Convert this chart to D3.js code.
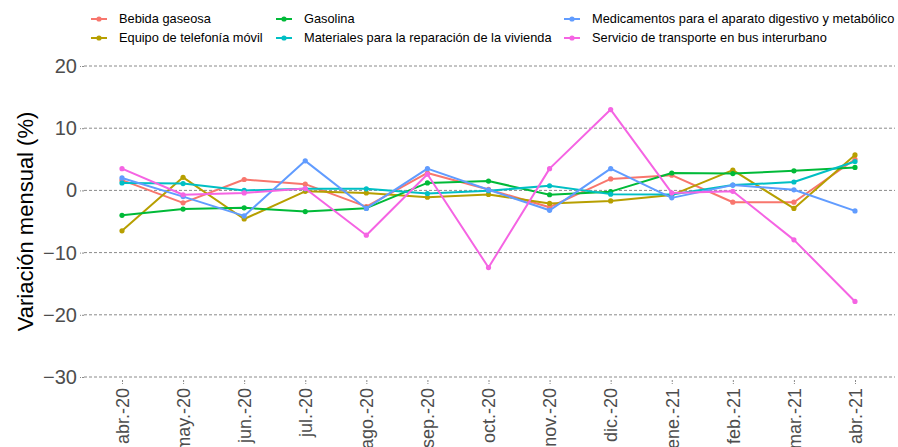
<!DOCTYPE html>
<html><head><meta charset="utf-8">
<script src="https://cdn.jsdelivr.net/npm/d3@7"></script>
<style>body{margin:0;background:#fff}svg{display:block;font-family:"Liberation Sans",Arial,sans-serif}</style>
</head><body>
<svg id="chart" width="898" height="447"></svg>
<script>
const months = ["abr.-20","may.-20","jun.-20","jul.-20","ago.-20","sep.-20","oct.-20","nov.-20","dic.-20","ene.-21","feb.-21","mar.-21","abr.-21"];
const seriesNames = ["Bebida gaseosa","Equipo de telefonía móvil","Gasolina","Materiales para la reparación de la vivienda","Medicamentos para el aparato digestivo y metabólico","Servicio de transporte en bus interurbano"];
const seriesColors = ["#F8766D","#B79F00","#00BA38","#00BFC4","#619CFF","#F564E3"];
const bebida      = [1.65,-2.0,1.75,1.0,-2.6,2.8,0.15,-2.7,1.85,2.45,-1.9,-1.9,5.0];
const telefonia   = [-6.5,2.1,-4.6,-0.15,-0.4,-1.1,-0.65,-2.1,-1.7,-0.75,3.25,-2.9,5.7];
const gasolina    = [-4.0,-3.0,-2.8,-3.4,-2.85,1.2,1.5,-0.7,-0.2,2.8,2.7,3.15,3.7];
const materiales  = [1.2,1.1,0.0,0.25,0.25,-0.5,-0.05,0.75,-0.6,-0.65,0.85,1.35,4.65];
const medicamentos= [2.0,-1.0,-4.1,4.75,-2.9,3.5,0.1,-3.2,3.5,-1.2,0.85,0.1,-3.3];
const bus         = [3.5,-0.7,-0.4,0.3,-7.2,2.6,-12.4,3.5,13.0,-0.4,-0.15,-7.95,-17.85];
const yTicks = [-30,-20,-10,0,10,20];
const yTitle = "Variación mensual (%)";

const allValues = [bebida,telefonia,gasolina,materiales,medicamentos,bus];
const series = seriesNames.map((n,i)=>({name:n,color:seriesColors[i],values:allValues[i]}));

const svg = d3.select("#chart");
const panel = {left:84, right:895, top:52, bottom:380};
const x = d3.scalePoint().domain(months).range([122,855]);
const y = d3.scaleLinear().domain([-30,20]).range([377,66]);

// grid
svg.append("g").selectAll("line").data(yTicks).join("line")
  .attr("x1",panel.left).attr("x2",panel.right)
  .attr("y1",d=>y(d)).attr("y2",d=>y(d))
  .attr("stroke","#8a8a8a").attr("stroke-width",1).attr("stroke-dasharray","3,2");

// y axis
const yAxis = svg.append("g").attr("transform",`translate(${panel.left},0)`)
  .call(d3.axisLeft(y).tickValues(yTicks).tickSize(4).tickPadding(3).tickFormat(d3.format("d")));
yAxis.select(".domain").remove();
yAxis.selectAll(".tick line").attr("stroke","#8a8a8a").attr("stroke-dasharray","2,1");
yAxis.selectAll(".tick text").attr("fill","#4D4D4D").style("font-size","20px").style("font-family","Liberation Sans, Arial, sans-serif");

// x axis
const xAxis = svg.append("g").attr("transform",`translate(0,${panel.bottom})`)
  .call(d3.axisBottom(x).tickSize(4).tickPadding(4));
xAxis.select(".domain").remove();
xAxis.selectAll(".tick line").attr("stroke","#8a8a8a").attr("stroke-dasharray","2,1");
xAxis.selectAll(".tick text").attr("fill","#4D4D4D").style("font-size","18px")
  .style("font-family","Liberation Sans, Arial, sans-serif")
  .attr("transform","rotate(-90)").attr("text-anchor","end")
  .attr("x",-8).attr("y",0).attr("dy","0.35em");

// y title
svg.append("text").attr("transform",`translate(33,${(y(20)+y(-30))/2}) rotate(-90)`)
  .attr("text-anchor","middle").style("font-size","22px").attr("fill","#000").text(yTitle);

// lines
const line = d3.line().x((d,i)=>x(months[i])).y(d=>y(d));
const sg = svg.append("g").selectAll("g").data(series).join("g");
sg.append("path").attr("d",d=>line(d.values)).attr("fill","none")
  .attr("stroke",d=>d.color).attr("stroke-width",2).attr("stroke-linejoin","round");
sg.selectAll("circle").data(d=>d.values.map(v=>({v,c:d.color}))).join("circle")
  .attr("cx",(d,i)=>x(months[i])).attr("cy",d=>y(d.v)).attr("r",2.6).attr("fill",d=>d.c);

// legend
const colX = [91,276,564];
const rowY = [19,38];
const lg = svg.append("g");
series.forEach((s,i)=>{
  const c = Math.floor(i/2), r = i%2;
  const g = lg.append("g").attr("transform",`translate(${colX[c]},${rowY[r]})`);
  g.append("line").attr("x1",0).attr("x2",16).attr("y1",0).attr("y2",0).attr("stroke",s.color).attr("stroke-width",2);
  g.append("circle").attr("cx",8).attr("cy",0).attr("r",2.6).attr("fill",s.color);
  g.append("text").attr("x",28).attr("y",0).attr("dy","0.35em").style("font-size","12.8px").attr("fill","#000").text(s.name);
});
</script>
</body></html>
